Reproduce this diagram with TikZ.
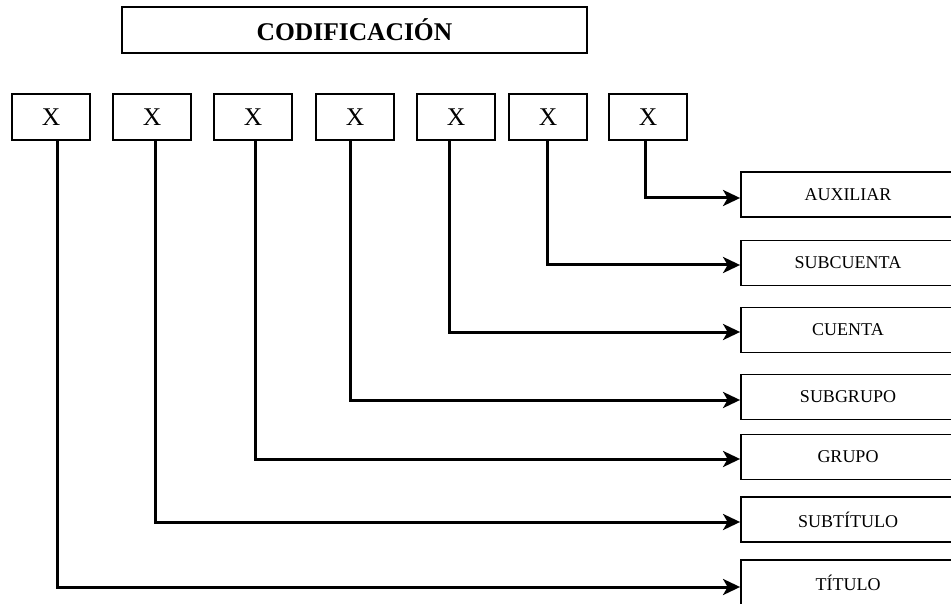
\documentclass[tikz,border=0pt]{standalone}
\usepackage{fontspec}
\setmainfont{Liberation Serif}
\usetikzlibrary{arrows.meta}
\tikzset{
  titlebox/.style={draw, line width=1.8pt, inner sep=0pt, minimum width=465pt, minimum height=46pt, font=\fontsize{25.5}{28}\selectfont\bfseries},
  xbox/.style={draw, line width=1.8pt, inner sep=0pt, minimum width=78pt, minimum height=46pt, font=\fontsize{25.5}{28}\selectfont},
  lbox/.style={draw, line width=1.8pt, inner sep=0pt, minimum width=214pt, minimum height=45pt, font=\fontsize{18}{20}\selectfont},
  conn/.style={line width=3pt, -{Stealth[length=17pt,width=16pt,inset=4.5pt]}}
}
\begin{document}
\begin{tikzpicture}[x=1pt,y=-1pt]
\useasboundingbox (0,0) rectangle (951,604);
\clip (0,0) rectangle (951,604);
\node[titlebox] (title) at (354.5,30) {CODIFICACIÓN};
\node[xbox] (x1) at (51,117) {X};
\node[xbox] (x2) at (152,117) {X};
\node[xbox] (x3) at (253,117) {X};
\node[xbox] (x4) at (355,117) {X};
\node[xbox] (x5) at (456,117) {X};
\node[xbox] (x6) at (548,117) {X};
\node[xbox] (x7) at (648,117) {X};
\node[lbox] (aux) at (848,194.5) {AUXILIAR};
\node[lbox] (subc) at (848,263) {SUBCUENTA};
\node[lbox] (cta) at (848,330) {CUENTA};
\node[lbox] (subg) at (848,397) {SUBGRUPO};
\node[lbox] (grp) at (848,457) {GRUPO};
\node[lbox] (subt) at (848,519.5) {SUBTÍTULO};
\node[lbox] (tit) at (848,582.5) {TÍTULO};
\draw[conn] ([xshift=-3pt]x7.south) |- ([yshift=-3.5pt]aux.west);
\draw[conn] ([xshift=-1pt]x6.south) |- ([yshift=-2pt]subc.west);
\draw[conn] ([xshift=-7pt]x5.south) |- ([yshift=-2pt]cta.west);
\draw[conn] ([xshift=-5pt]x4.south) |- ([yshift=-3pt]subg.west);
\draw[conn] ([xshift=2pt]x3.south) |- ([yshift=-2pt]grp.west);
\draw[conn] ([xshift=3pt]x2.south) |- ([yshift=-2.5pt]subt.west);
\draw[conn] ([xshift=6pt]x1.south) |- ([yshift=-4.5pt]tit.west);
\end{tikzpicture}
\end{document}
